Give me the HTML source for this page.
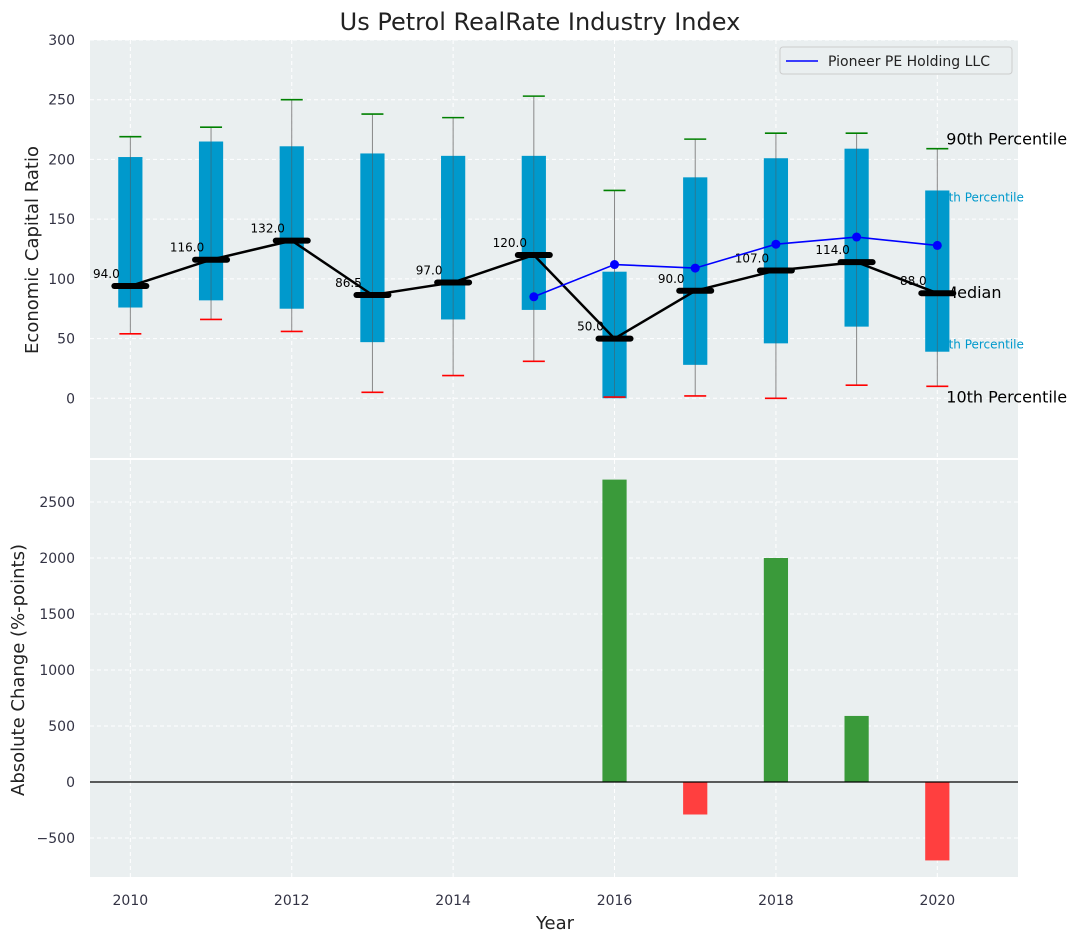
<!DOCTYPE html>
<html><head><meta charset="utf-8"><style>
body{margin:0;background:#fff;font-family:"Liberation Sans","DejaVu Sans",sans-serif}
svg text{font-family:"DejaVu Sans","Liberation Sans",sans-serif}
</style></head><body>
<svg id="chart" width="1082" height="942" xmlns="http://www.w3.org/2000/svg">
<text x="540" y="30" text-anchor="middle" font-size="24" fill="#222">Us Petrol RealRate Industry Index</text>
<g id="topg"></g><g id="botg"></g>
</svg>
<script>
const years=[2010,2011,2012,2013,2014,2015,2016,2017,2018,2019,2020];
const p10=[54,66,56,5,19,31,1,2,0,11,10];
const p25=[76,82,75,47,66,74,0,28,46,60,39];
const p50=[94,116,132,86.5,97,120,50,90,107,114,88];
const p75=[202,215,211,205,203,203,106,185,201,209,174];
const p90=[219,227,250,238,235,253,174,217,222,222,209];
const pioneerYears=[2015,2016,2017,2018,2019,2020];
const pioneerVals=[85,112,109,129,135,128];
const changeYears=[2016,2017,2018,2019,2020];
const changeVals=[2700,-290,2000,590,-700];
const topTicks=[0,50,100,150,200,250,300];
const botTicks=[-500,0,500,1000,1500,2000,2500];
const xTicks=[2010,2012,2014,2016,2018,2020];

const NS="http://www.w3.org/2000/svg";
function mk(p,t,a,txt){const e=document.createElementNS(NS,t);for(const k in a)e.setAttribute(k,a[k]);if(txt!==undefined)e.textContent=txt;p.appendChild(e);return e;}
const L=90,R=1018;
const x=v=>L+(v-2009.5)/(11.5)*(R-L);
const T0=40,T1=458,yT=v=>T1-(v+50)/350*(T1-T0);
const B0=460,B1=877,yB=v=>B1-(v+848)/(2875+848)*(B1-B0);
const gTop=document.getElementById('topg'),gBot=document.getElementById('botg');
const bgT=mk(gTop,'rect',{x:L,y:T0,width:R-L,height:T1-T0,fill:'#eaeff0'});


const bgB=mk(gBot,'rect',{x:L,y:B0,width:R-L,height:B1-B0,fill:'#eaeff0'});


xTicks.forEach(t=>{
  mk(gTop,'line',{x1:x(t),x2:x(t),y1:T0,y2:T1,stroke:'#fff','stroke-dasharray':'4,3'});
  mk(gBot,'line',{x1:x(t),x2:x(t),y1:B0,y2:B1,stroke:'#fff','stroke-dasharray':'4,3'});
  const tl=mk(gBot,'text',{x:x(t),y:905,'text-anchor':'middle','font-size':14,fill:'#334'},t);
  
  
});
topTicks.forEach(t=>{
  mk(gTop,'line',{x1:L,x2:R,y1:yT(t),y2:yT(t),stroke:'#fff','stroke-dasharray':'4,3'});
  const tl=mk(gTop,'text',{x:75,y:yT(t)+5,'text-anchor':'end','font-size':14,fill:'#334'},t);
  
  
});
botTicks.forEach(t=>{
  mk(gBot,'line',{x1:L,x2:R,y1:yB(t),y2:yB(t),stroke:'#fff','stroke-dasharray':'4,3'});
  const tl=mk(gBot,'text',{x:75,y:yB(t)+5,'text-anchor':'end','font-size':14,fill:'#334'},t<0?'\u2212'+(-t):t);
  
  
});
const pctText=['90th Percentile','75th Percentile','Median','25th Percentile','10th Percentile'];
const pctSeries=[p90,p75,p50,p25,p10];
const pctStyle=[[16,'#000',-4,9],[12,'#0099cc',11,-4],[16,'#000',5,6],[12,'#0099cc',-3,-4],[16,'#000',16,9]];
pctText.forEach((s,i)=>{
  const vals=pctSeries[i];const v=vals[vals.length-1];const st=pctStyle[i];
  const t=mk(gTop,'text',{x:x(2020)+st[3],y:yT(v)+st[2],'font-size':st[0],fill:st[1]},s);
  
  
});
const bw=0.3*(R-L)/11.5;
years.forEach((yr,i)=>{
  const cx=x(yr);
  const w=mk(gTop,'line',{x1:cx,x2:cx,y1:yT(p90[i]),y2:yT(p10[i]),stroke:'#888','stroke-width':1});
  
  
  const b=mk(gTop,'rect',{x:cx-bw/2,y:yT(p75[i]),width:bw,height:yT(p25[i])-yT(p75[i]),fill:'#0099cc'});
  
  
  mk(gTop,'line',{x1:cx,x2:cx,y1:yT(p75[i]),y2:yT(p25[i]),stroke:'#555','stroke-width':0.8,opacity:0.6});
  mk(gTop,'line',{x1:cx-11,x2:cx+11,y1:yT(p90[i]),y2:yT(p90[i]),stroke:'green','stroke-width':1.6});
  mk(gTop,'line',{x1:cx-11,x2:cx+11,y1:yT(p10[i]),y2:yT(p10[i]),stroke:'red','stroke-width':1.6});
});
const mpath=years.map((yr,i)=>(i?'L':'M')+x(yr)+','+yT(p50[i])).join('');
const ml=mk(gTop,'path',{d:mpath,fill:'none',stroke:'#000','stroke-width':2.5});


years.forEach((yr,i)=>{
  const cx=x(yr);
  const m=mk(gTop,'line',{x1:cx-16,x2:cx+16,y1:yT(p50[i]),y2:yT(p50[i]),stroke:'#000','stroke-width':6,'stroke-linecap':'round'});
  
  
  const t=mk(gTop,'text',{x:cx-24,y:yT(p50[i])-8,'text-anchor':'middle','font-size':12,fill:'#000'},p50[i].toFixed(1));
  
  
});
const pp=pioneerYears.map((yr,i)=>(i?'L':'M')+x(yr)+','+yT(pioneerVals[i])).join('');
const pl=mk(gTop,'path',{d:pp,fill:'none',stroke:'blue','stroke-width':1.6});


pioneerYears.forEach((yr,i)=>{
  const c=mk(gTop,'circle',{cx:x(yr),cy:yT(pioneerVals[i]),r:4.5,fill:'blue'});
  
  
});
const lg=mk(gTop,'g',{});


mk(lg,'rect',{x:780,y:47,width:232,height:27,fill:'#eaeff0',stroke:'#ccc',rx:3});
mk(lg,'line',{x1:786,x2:818,y1:61,y2:61,stroke:'blue','stroke-width':1.6});
const lt=mk(lg,'text',{x:828,y:66,'font-size':14,fill:'#222'},'Pioneer PE Holding LLC');


changeYears.forEach((yr,i)=>{
  const v=changeVals[i];
  const r=mk(gBot,'rect',{x:x(yr)-bw/2,y:Math.min(yB(v),yB(0)),width:bw,height:Math.abs(yB(v)-yB(0)),fill:v>=0?'#3a9a3a':'#ff3f3f'});
  
  
});
mk(gBot,'line',{x1:L,x2:R,y1:yB(0),y2:yB(0),stroke:'#000','stroke-width':1.2});
const a1=mk(gTop,'text',{x:38,y:250,'text-anchor':'middle','font-size':18,fill:'#222',transform:'rotate(-90 38 250)'},'Economic Capital Ratio');


const a2=mk(gBot,'text',{x:24,y:670,'text-anchor':'middle','font-size':18,fill:'#222',transform:'rotate(-90 24 670)'},'Absolute Change (%-points)');


const a3=mk(gBot,'text',{x:555,y:929,'text-anchor':'middle','font-size':18,fill:'#222'},'Year');


</script>
</body></html>
